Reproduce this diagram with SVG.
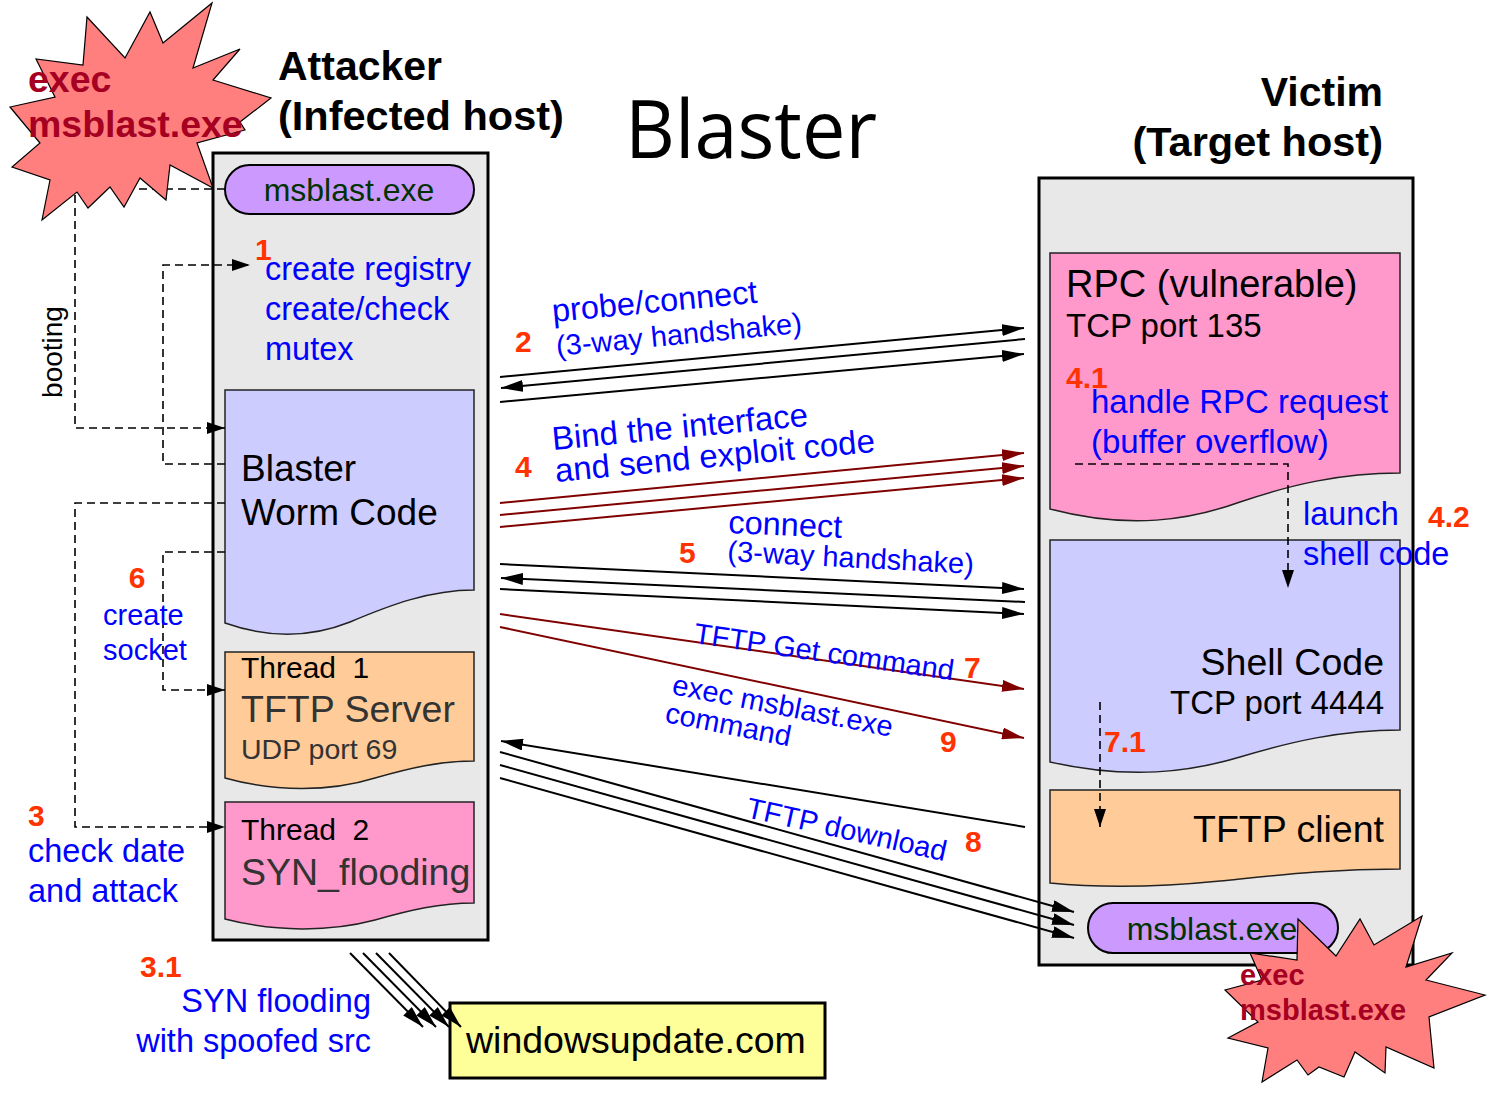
<svg xmlns="http://www.w3.org/2000/svg" width="1493" height="1114" viewBox="0 0 1493 1114">
<style>
text{font-family:"Liberation Sans",Arial,sans-serif}
.b{font-weight:bold}
.num{fill:#ff3300;font-weight:bold;font-size:30px}
.blue{fill:#0000ff}
.host{fill:#e8e8e8;stroke:#000;stroke-width:3}
.doc{stroke:#222;stroke-width:1.5}
.pill{fill:#cc99ff;stroke:#000;stroke-width:2}
.pilltext{fill:#003300;font-size:32px;text-anchor:middle}
.star{fill:#ff7f7f;stroke:#000;stroke-width:1.2}
.startext{fill:#a50021;font-weight:bold}
.dash{fill:none;stroke:#000;stroke-width:1.6;stroke-dasharray:8,5}
.blk{stroke:#000;stroke-width:2;fill:none}
.red{stroke:#800000;stroke-width:2;fill:none}
</style>
<defs>
<marker id="ab" viewBox="0 0 22 12" refX="22" refY="6" markerWidth="22" markerHeight="12" orient="auto" markerUnits="userSpaceOnUse"><path d="M0,0 L22,6 L0,12 z" fill="#000"/></marker>
<marker id="ar" viewBox="0 0 22 12" refX="22" refY="6" markerWidth="22" markerHeight="12" orient="auto" markerUnits="userSpaceOnUse"><path d="M0,0 L22,6 L0,12 z" fill="#800000"/></marker>
<marker id="ad" viewBox="0 0 18 12" refX="18" refY="6" markerWidth="18" markerHeight="12" orient="auto" markerUnits="userSpaceOnUse"><path d="M0,0 L18,6 L0,12 z" fill="#000"/></marker>
</defs>

<!-- titles -->
<g id="titles">
<text x="278" y="80" class="b" font-size="41">Attacker</text>
<text x="278" y="130" class="b" font-size="41.5">(Infected host)</text>
<text x="625" y="158" font-size="80" textLength="252" lengthAdjust="spacingAndGlyphs" style="font-family:'Open Sans','Noto Sans',sans-serif">Blaster</text>
<text x="1383" y="106" class="b" font-size="41" text-anchor="end">Victim</text>
<text x="1383" y="156" class="b" font-size="41.5" text-anchor="end">(Target host)</text>
</g>

<!-- attacker host -->
<g id="attacker">
<rect x="213" y="153" width="275" height="787" class="host"/>
</g>
<g id="msblast-attacker">
<rect x="225" y="165" width="249" height="49" rx="24.5" class="pill"/>
<text x="349" y="201" class="pilltext">msblast.exe</text>
</g>
<g id="registry">
<text x="255" y="260" class="num" font-size="28">1</text>
<text x="265" y="280" class="blue" font-size="32.5">create registry</text>
<text x="265" y="320" class="blue" font-size="32.5">create/check</text>
<text x="265" y="360" class="blue" font-size="32.5">mutex</text>
</g>
<g id="worm">
<path d="M225,390 H474 V590 C430,590 390,605 350,622 C305,640 262,636 225,623 Z" fill="#ccccff" class="doc"/>
<text x="241" y="481" font-size="37">Blaster</text>
<text x="241" y="525" font-size="37">Worm Code</text>
</g>
<g id="thread1">
<path d="M225,652 H474 V761 C440,761 410,768 375,778 C330,792 275,792 225,778 Z" fill="#ffcc99" class="doc"/>
<text x="241" y="678" font-size="30" word-spacing="8">Thread 1</text>
<text x="241" y="722" font-size="37.5" fill="#333">TFTP Server</text>
<text x="241" y="759" font-size="28.5" fill="#333">UDP port 69</text>
</g>
<g id="thread2">
<path d="M225,802 H474 V903 C440,903 410,910 375,920 C330,932 275,932 225,919 Z" fill="#ff99cc" class="doc"/>
<text x="241" y="840" font-size="30" word-spacing="8">Thread 2</text>
<text x="241" y="885" font-size="37.5" fill="#333">SYN_flooding</text>
</g>
<g id="windowsupdate">
<rect x="450" y="1003" width="375" height="75" fill="#ffff99" stroke="#000" stroke-width="3"/>
<text x="466" y="1053" font-size="37.5">windowsupdate.com</text>
</g>

<!-- victim host -->
<g id="victim">
<rect x="1039" y="178" width="374" height="787" class="host"/>
</g>
<g id="rpc">
<path d="M1050,253 H1400 V473 C1340,473 1290,485 1240,502 C1190,520 1130,530 1050,509 Z" fill="#ff99cc" class="doc"/>
<text x="1066" y="297" font-size="38">RPC (vulnerable)</text>
<text x="1066" y="337" font-size="33">TCP port 135</text>
<text x="1066" y="388" class="num" font-size="30">4.1</text>
<text x="1091" y="413" class="blue" font-size="33">handle RPC request</text>
<text x="1091" y="453" class="blue" font-size="33">(buffer overflow)</text>
</g>
<g id="shellcode">
<path d="M1050,540 H1400 V730 C1340,730 1290,742 1240,757 C1190,772 1130,780 1050,762 Z" fill="#ccccff" class="doc"/>
<text x="1384" y="675" font-size="37.5" text-anchor="end">Shell Code</text>
<text x="1384" y="714" font-size="33" text-anchor="end">TCP port 4444</text>
</g>
<g id="tftpclient">
<path d="M1050,790 H1400 V869 C1330,869 1280,875 1220,881 C1150,888 1100,888 1050,883 Z" fill="#ffcc99" class="doc"/>
<text x="1384" y="842" font-size="37.5" text-anchor="end">TFTP client</text>
</g>
<g id="msblast-victim">
<rect x="1088" y="903" width="250" height="50" rx="25" class="pill"/>
<text x="1212" y="940" class="pilltext">msblast.exe</text>
</g>

<!-- connectors -->
<g id="connectors">
<path d="M225,189 H75 V428 H225" class="dash" marker-end="url(#ad)"/>
<path d="M225,464 H163 V265 H250" class="dash" marker-end="url(#ad)"/>
<path d="M225,503 H75 V827 H225" class="dash" marker-end="url(#ad)"/>
<path d="M225,552 H163 V690 H225" class="dash" marker-end="url(#ad)"/>
<path d="M1075,464 H1288 V588" class="dash" marker-end="url(#ad)"/>
<path d="M1100,702 V827" class="dash" marker-end="url(#ad)"/>
<line x1="500" y1="377" x2="1024" y2="328" class="blk" marker-end="url(#ab)"/>
<line x1="1025" y1="339" x2="501" y2="388" class="blk" marker-end="url(#ab)"/>
<line x1="500" y1="402" x2="1024" y2="354" class="blk" marker-end="url(#ab)"/>
<line x1="500" y1="503" x2="1024" y2="453" class="red" marker-end="url(#ar)"/>
<line x1="500" y1="515" x2="1024" y2="466" class="red" marker-end="url(#ar)"/>
<line x1="500" y1="527" x2="1024" y2="478" class="red" marker-end="url(#ar)"/>
<line x1="500" y1="564" x2="1024" y2="589" class="blk" marker-end="url(#ab)"/>
<line x1="1025" y1="602" x2="501" y2="578" class="blk" marker-end="url(#ab)"/>
<line x1="500" y1="589" x2="1024" y2="614" class="blk" marker-end="url(#ab)"/>
<line x1="500" y1="614" x2="1024" y2="689" class="red" marker-end="url(#ar)"/>
<line x1="500" y1="627" x2="1024" y2="738" class="red" marker-end="url(#ar)"/>
<line x1="1025" y1="827" x2="501" y2="741" class="blk" marker-end="url(#ab)"/>
<line x1="500" y1="752" x2="1074" y2="912" class="blk" marker-end="url(#ab)"/>
<line x1="500" y1="765" x2="1074" y2="925" class="blk" marker-end="url(#ab)"/>
<line x1="500" y1="778" x2="1074" y2="938" class="blk" marker-end="url(#ab)"/>
<line x1="350" y1="953" x2="423" y2="1027" class="blk" stroke-width="1.6" marker-end="url(#ab)"/>
<line x1="363" y1="953" x2="436" y2="1027" class="blk" stroke-width="1.6" marker-end="url(#ab)"/>
<line x1="376" y1="953" x2="449" y2="1027" class="blk" stroke-width="1.6" marker-end="url(#ab)"/>
<line x1="389" y1="953" x2="461" y2="1027" class="blk" stroke-width="1.6" marker-end="url(#ab)"/>
</g>

<!-- labels -->
<g id="labels">
<text x="62" y="352" font-size="28" text-anchor="middle" transform="rotate(-90 62 352)">booting</text>
<text x="137" y="588" class="num" font-size="29" text-anchor="middle">6</text>
<text x="103" y="625" class="blue" font-size="29">create</text>
<text x="103" y="660" class="blue" font-size="29">socket</text>
<text x="28" y="826" class="num" font-size="30">3</text>
<text x="28" y="862" class="blue" font-size="32.5">check date</text>
<text x="28" y="902" class="blue" font-size="32.5">and attack</text>
<text x="140" y="977" class="num" font-size="30">3.1</text>
<text x="371" y="1012" class="blue" font-size="32.5" text-anchor="end">SYN flooding</text>
<text x="371" y="1052" class="blue" font-size="32.5" text-anchor="end">with spoofed src</text>

<text x="515" y="352" class="num">2</text>
<text class="blue" font-size="32.5" transform="translate(553,322) rotate(-5.4)">probe/connect</text>
<text class="blue" font-size="29" transform="translate(557,356) rotate(-5.4)">(3-way handshake)</text>
<text x="515" y="477" class="num">4</text>
<text class="blue" font-size="33" transform="translate(553,450) rotate(-5.4)">Bind the interface</text>
<text class="blue" font-size="33" transform="translate(556,482) rotate(-5.4)">and send exploit code</text>
<text x="679" y="563" class="num">5</text>
<text class="blue" font-size="32.5" transform="translate(728,533) rotate(2.5)">connect</text>
<text class="blue" font-size="29" transform="translate(727,561) rotate(3)">(3-way handshake)</text>
<text class="blue" font-size="29" transform="translate(693,643) rotate(8.2)">TFTP Get command</text>
<text x="964" y="678" class="num">7</text>
<text class="blue" font-size="29" transform="translate(671,694) rotate(11)">exec msblast.exe</text>
<text class="blue" font-size="29" transform="translate(664,722) rotate(11)">command</text>
<text x="940" y="752" class="num">9</text>
<text class="blue" font-size="29" transform="translate(745,817) rotate(12.5)">TFTP download</text>
<text x="965" y="852" class="num">8</text>

<text x="1303" y="525" class="blue" font-size="32.5">launch</text>
<text x="1303" y="565" class="blue" font-size="32.5">shell code</text>
<text x="1428" y="527" class="num" font-size="31">4.2</text>
<text x="1104" y="752" class="num" font-size="30">7.1</text>
</g>

<!-- explosion stars -->
<g id="star-attacker">
<polygon class="star" points="87,17 125,58 150,12 163,43 212,3 193,68 240,49 213,80 271,98 240,122 245,130 197,143 213,188 170,165 166,200 140,178 124,207 110,187 88,208 77,192 42,220 50,180 12,167 40,143 10,107 55,97 36,59 83,65"/>
<text x="28" y="92" class="startext" font-size="37.5">exec</text>
<text x="28" y="137" class="startext" font-size="37.5">msblast.exe</text>
</g>
<g id="star-victim">
<polygon class="star" points="1298,919 1336,956 1360,919 1374,945 1422,916 1406,967 1452,953 1426,980 1485,995 1429,1017 1434,1068 1386,1047 1385,1073 1355,1052 1344,1077 1319,1067 1308,1075 1297,1060 1262,1082 1268,1048 1228,1038 1258,1022 1225,990 1262,980 1250,953 1297,960"/>
<text x="1240" y="985" class="startext" font-size="29">exec</text>
<text x="1240" y="1020" class="startext" font-size="29">msblast.exe</text>
</g>
</svg>
